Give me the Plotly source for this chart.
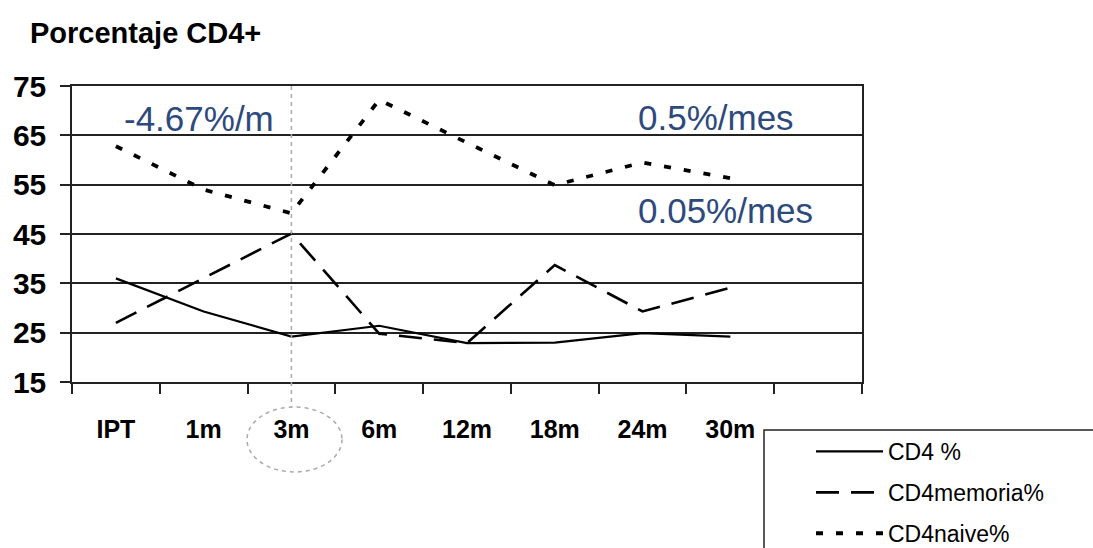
import plotly.graph_objects as go

categories = ["IPT", "1m", "3m", "6m", "12m", "18m", "24m", "30m"]
axis_categories = categories + [" "]
cd4 = [36.0, 29.3, 24.2, 26.4, 22.9, 23.0, 24.9, 24.2]
cd4_memoria = [27.0, 36.0, 45.1, 24.8, 22.9, 38.7, 29.3, 34.1]
cd4_naive = [62.8, 54.0, 49.2, 72.2, 63.5, 54.9, 59.5, 56.3]
y_ticks = [15, 25, 35, 45, 55, 65, 75]

FONT = "Liberation Sans, Arial, sans-serif"
W, H = 1093, 548
L, R, T, B = 72, 231, 86, 166
PW, PH = W - L - R, H - T - B

def px(x):
    return (x - L) / PW

def py(y):
    return (H - B - y) / PH

fig = go.Figure()
fig.add_trace(go.Scatter(x=categories, y=cd4, mode="lines", name="CD4 %",
                         legendgroup="a",
                         line=dict(color="black", width=2.2)))
fig.add_trace(go.Scatter(x=categories, y=cd4_memoria, mode="lines", name="CD4memoria%",
                         legendgroup="b",
                         line=dict(color="black", width=2.6, dash="23px,12px")))
fig.add_trace(go.Scatter(x=categories, y=cd4_naive, mode="lines", name="CD4naive%",
                         legendgroup="c",
                         line=dict(color="black", width=3.8, dash="7px,13px")))

fig.update_layout(
    width=W, height=H,
    margin=dict(l=L, r=R, t=T, b=B, autoexpand=False),
    paper_bgcolor="white", plot_bgcolor="white",
    font=dict(family=FONT, color="black"),
    title=dict(text="<b>Porcentaje CD4+</b>", x=30 / W, xanchor="left",
               y=1 - 33 / H, yanchor="middle",
               font=dict(size=29, family=FONT, color="black")),
    showlegend=True,
    legend=dict(x=px(811), y=py(430), xanchor="left", yanchor="top",
                bgcolor="rgba(0,0,0,0)", borderwidth=0,
                font=dict(size=23, family=FONT, color="black"),
                itemwidth=67, tracegroupgap=8),
    xaxis=dict(type="category", categoryorder="array", categoryarray=axis_categories,
               range=[-0.5, 8.5], tickson="boundaries", ticks="outside",
               ticklen=10, tickwidth=1.5, tickcolor="#222",
               showline=True, linecolor="#222", linewidth=1.5, mirror=True,
               showgrid=False, ticklabelstandoff=24, automargin=False,
               tickfont=dict(size=25, family=FONT, color="black", weight="bold")),
    yaxis=dict(range=[15, 75], tickvals=y_ticks, ticks="outside", ticklen=10,
               tickwidth=1.5, tickcolor="#222",
               showline=True, linecolor="#222", linewidth=1.5, mirror=True,
               showgrid=True, gridcolor="#222", gridwidth=1.5, zeroline=False,
               ticklabelstandoff=8, automargin=False,
               tickfont=dict(size=30, family=FONT, color="black", weight="bold")),
)

blue = "#2E4A7D"
for txt, xl, yc in [("-4.67%/m", 122, 118), ("0.5%/mes", 636, 117), ("0.05%/mes", 636, 210)]:
    fig.add_annotation(text=txt, x=px(xl), y=py(yc), xref="paper", yref="paper",
                       xanchor="left", yanchor="middle", showarrow=False,
                       font=dict(size=35, family=FONT, color=blue))

# vertical dotted marker at 3m and ellipse around the 3m label
fig.add_shape(type="line", xref="x", yref="paper", x0=2, x1=2, y0=1, y1=py(407),
              line=dict(color="#AAAAAA", width=1.5, dash="4px,4px"))
fig.add_shape(type="circle", xref="paper", yref="paper",
              x0=px(247), x1=px(342), y0=py(472), y1=py(407),
              line=dict(color="#AAAAAA", width=1.5, dash="4px,4px"))
# legend frame (extends beyond the image)
fig.add_shape(type="rect", xref="paper", yref="paper",
              x0=px(764), x1=px(1200), y0=py(600), y1=py(430),
              line=dict(color="#222", width=1.5))

fig.write_html("out.html", config={"displayModeBar": False},
               post_script="document.body.style.margin='0px';document.body.style.overflow='hidden';")
